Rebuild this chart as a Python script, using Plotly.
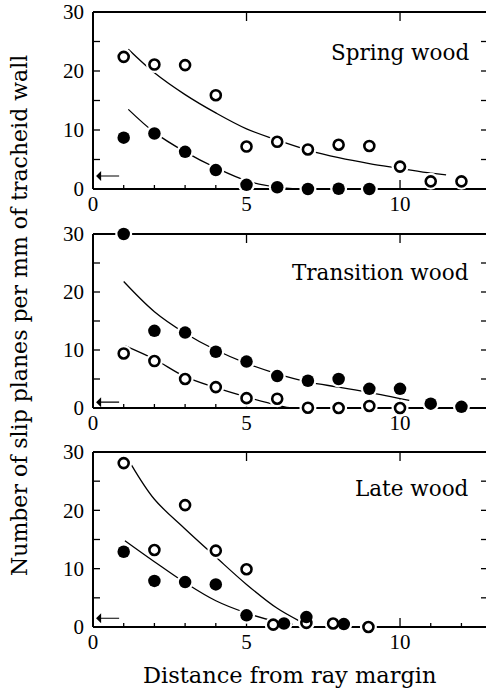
import plotly.graph_objects as go

# ---------------- data ----------------
# Spring wood
spring_open_x = [1, 2, 3, 4, 5, 6, 7, 8, 9, 10, 11, 12]
spring_open_y = [22.4, 21.1, 21.0, 15.9, 7.2, 8.0, 6.7, 7.5, 7.3, 3.8, 1.3, 1.3]
spring_fill_x = [1, 2, 3, 4, 5, 6, 7, 8, 9]
spring_fill_y = [8.7, 9.4, 6.3, 3.2, 0.7, 0.3, 0.0, 0.05, 0.0]
spring_open_curve_x = [1.15, 2, 3, 4, 5, 6, 7, 8, 9, 10, 11, 11.5]
spring_open_curve_y = [23.7, 19.7, 16.0, 12.9, 10.2, 8.3, 6.6, 5.3, 4.3, 3.5, 2.7, 2.4]
spring_fill_curve_x = [1.15, 2, 3, 4, 5, 6, 6.6, 9]
spring_fill_curve_y = [13.5, 9.6, 6.3, 3.6, 1.4, 0.3, 0.0, 0.0]

# Transition wood
trans_fill_x = [1, 2, 3, 4, 5, 6, 7, 8, 9, 10, 11, 12]
trans_fill_y = [30.0, 13.3, 13.0, 9.7, 8.0, 5.5, 4.7, 5.0, 3.3, 3.3, 0.75, 0.2]
trans_open_x = [1, 2, 3, 4, 5, 6, 7, 8, 9, 10]
trans_open_y = [9.4, 8.1, 5.0, 3.6, 1.7, 1.6, 0.05, 0.0, 0.35, 0.0]
trans_fill_curve_x = [1, 2, 3, 4, 5, 6, 7, 8, 9, 10.3]
trans_fill_curve_y = [21.8, 16.6, 12.9, 10.0, 7.7, 5.9, 4.5, 3.6, 2.7, 1.3]
trans_open_curve_x = [1.05, 2, 3, 4, 5, 6, 6.5, 12.8]
trans_open_curve_y = [10.7, 8.4, 5.4, 3.5, 1.9, 0.5, 0.0, 0.0]

# Late wood
late_open_x = [1, 2, 3, 4, 5, 5.87, 6.95, 7.82, 8.97]
late_open_y = [28.1, 13.2, 20.9, 13.1, 9.9, 0.4, 0.7, 0.6, 0.0]
late_fill_x = [1, 2, 3, 4, 5, 6.22, 6.95, 8.17]
late_fill_y = [12.9, 7.9, 7.7, 7.3, 2.0, 0.6, 1.7, 0.5]
late_open_curve_x = [1.25, 2, 3, 4, 5, 6, 6.7]
late_open_curve_y = [27.8, 21.9, 16.8, 12.0, 7.3, 3.2, 1.1]
late_fill_curve_x = [1.04, 2, 3, 4, 5, 6, 6.5]
late_fill_curve_y = [14.8, 11.2, 7.6, 4.5, 2.4, 0.9, 0.5]

panel_titles = ["Spring wood", "Transition wood", "Late wood"]
title_y = [23.2, 23.3, 23.8]
arrow_y = [2.2, 1.0, 1.5]
x_label_vals = [0, 5, 10]
x_minor_vals = [1, 2, 3, 4, 6, 7, 8, 9, 11, 12]
y_label_vals = [0, 10, 20, 30]
y_tick_vals = [5, 10, 15, 20, 25]

panels = [
    dict(open=(spring_open_x, spring_open_y), fill=(spring_fill_x, spring_fill_y),
         curves=[(spring_open_curve_x, spring_open_curve_y), (spring_fill_curve_x, spring_fill_curve_y)]),
    dict(open=(trans_open_x, trans_open_y), fill=(trans_fill_x, trans_fill_y),
         curves=[(trans_fill_curve_x, trans_fill_curve_y), (trans_open_curve_x, trans_open_curve_y)]),
    dict(open=(late_open_x, late_open_y), fill=(late_fill_x, late_fill_y),
         curves=[(late_open_curve_x, late_open_curve_y), (late_fill_curve_x, late_fill_curve_y)]),
]

W, H = 486, 691
ML, MR, MT, MB = 93, 0, 12, 64
plot_w = W - ML - MR
plot_h = H - MT - MB
# pixel extents (top, bottom) of each panel
panel_px = [(12, 189), (234, 408), (452, 627)]

fig = go.Figure()
TICKFONT = dict(family="Liberation Serif", size=21, color="black")
TEXTFONT = dict(family="DejaVu Serif", size=21.5, color="black")
FRAME = dict(color="black", width=2)
TICK = dict(color="black", width=1.3)

for i, p in enumerate(panels):
    n = "" if i == 0 else str(i + 1)
    xa, ya = "x" + n, "y" + n
    xd, yd = xa + " domain", ya + " domain"
    for cx, cy in p["curves"]:
        fig.add_trace(go.Scatter(x=cx, y=cy, mode="lines", xaxis=xa, yaxis=ya,
                                 line=dict(color="black", width=1.3, shape="spline", smoothing=1.0),
                                 showlegend=False, hoverinfo="skip"))
    # white halos beneath markers (they break the lines, as in the original)
    for sx, sy in (p["open"], p["fill"]):
        fig.add_trace(go.Scatter(x=sx, y=sy, mode="markers", xaxis=xa, yaxis=ya, cliponaxis=False,
                                 marker=dict(size=17, color="white", line=dict(width=0)),
                                 showlegend=False, hoverinfo="skip"))
    fig.add_trace(go.Scatter(x=p["open"][0], y=p["open"][1], mode="markers", xaxis=xa, yaxis=ya,
                             cliponaxis=False,
                             marker=dict(size=10, color="white", line=dict(width=2.6, color="black")),
                             showlegend=False))
    fig.add_trace(go.Scatter(x=p["fill"][0], y=p["fill"][1], mode="markers", xaxis=xa, yaxis=ya,
                             cliponaxis=False,
                             marker=dict(size=12.5, color="black", line=dict(width=0)),
                             showlegend=False))

    top, bot = panel_px[i]
    ph = bot - top
    dom = [(H - MB - bot) / plot_h, (H - MB - top) / plot_h]
    fig.layout["xaxis" + n] = dict(domain=[0, 1], range=[0, 12.8], anchor=ya,
                                   tickmode="array", tickvals=x_label_vals, ticks="",
                                   showline=False, showgrid=False, zeroline=False, tickfont=TICKFONT)
    fig.layout["yaxis" + n] = dict(domain=dom, range=[0, 30], anchor=xa,
                                   tickmode="array", tickvals=y_label_vals, ticks="",
                                   showline=False, showgrid=False, zeroline=False, tickfont=TICKFONT,
                                   ticklabelstandoff=8)

    # frame: left, top, bottom (right edge lies at the picture border)
    fig.add_shape(type="line", xref=xd, yref=yd, x0=0, x1=0, y0=0, y1=1, line=FRAME, layer="below")
    fig.add_shape(type="line", xref=xd, yref=yd, x0=0, x1=1, y0=1, y1=1, line=FRAME, layer="below")
    fig.add_shape(type="line", xref=xd, yref=yd, x0=0, x1=1, y0=0, y1=0, line=FRAME, layer="below")
    # x ticks (bottom: minor + major, top: major)
    for v in x_minor_vals:
        fig.add_shape(type="line", xref=xa, yref=yd, x0=v, x1=v, y0=0, y1=4 / ph, line=TICK, layer="below")
    for v in x_label_vals[1:]:
        fig.add_shape(type="line", xref=xa, yref=yd, x0=v, x1=v, y0=0, y1=9 / ph, line=TICK, layer="below")
        fig.add_shape(type="line", xref=xa, yref=yd, x0=v, x1=v, y0=1, y1=1 - 9 / ph, line=TICK, layer="below")
    # y ticks (left and right)
    for v in y_tick_vals:
        fig.add_shape(type="line", xref=xd, yref=ya, x0=0, x1=7 / plot_w, y0=v, y1=v, line=TICK, layer="below")
        fig.add_shape(type="line", xref=xd, yref=ya, x0=1, x1=1 - 5 / plot_w, y0=v, y1=v, line=TICK, layer="below")

    fig.add_annotation(x=12.3, y=title_y[i], xref=xa, yref=ya, text=panel_titles[i],
                       showarrow=False, xanchor="right", yanchor="middle", font=TEXTFONT)
    fig.add_annotation(x=0.1, y=arrow_y[i], ax=0.9, ay=arrow_y[i], xref=xa, yref=ya,
                       axref=xa, ayref=ya, text="", showarrow=True, arrowhead=1,
                       arrowsize=1.4, arrowwidth=1.2, arrowcolor="black")

fig.add_annotation(x=0.5, y=-(675 - (H - MB)) / plot_h, xref="paper", yref="paper",
                   text="Distance from ray margin", showarrow=False, yanchor="middle",
                   font=dict(family="DejaVu Serif", size=22.5, color="black"))

fig.add_annotation(x=-(ML - 19) / plot_w, y=(H - MB - 316) / plot_h, xref="paper", yref="paper",
                   text="Number of slip planes per mm of tracheid wall", textangle=-90,
                   showarrow=False, xanchor="center", yanchor="middle",
                   font=dict(family="DejaVu Serif", size=22, color="black"))

fig.update_layout(width=W, height=H, margin=dict(l=ML, r=MR, t=MT, b=MB),
                  paper_bgcolor="white", plot_bgcolor="rgba(0,0,0,0)", showlegend=False)

fig.write_html("out.html", config={"displayModeBar": False},
               post_script="document.body.style.margin='0';")
